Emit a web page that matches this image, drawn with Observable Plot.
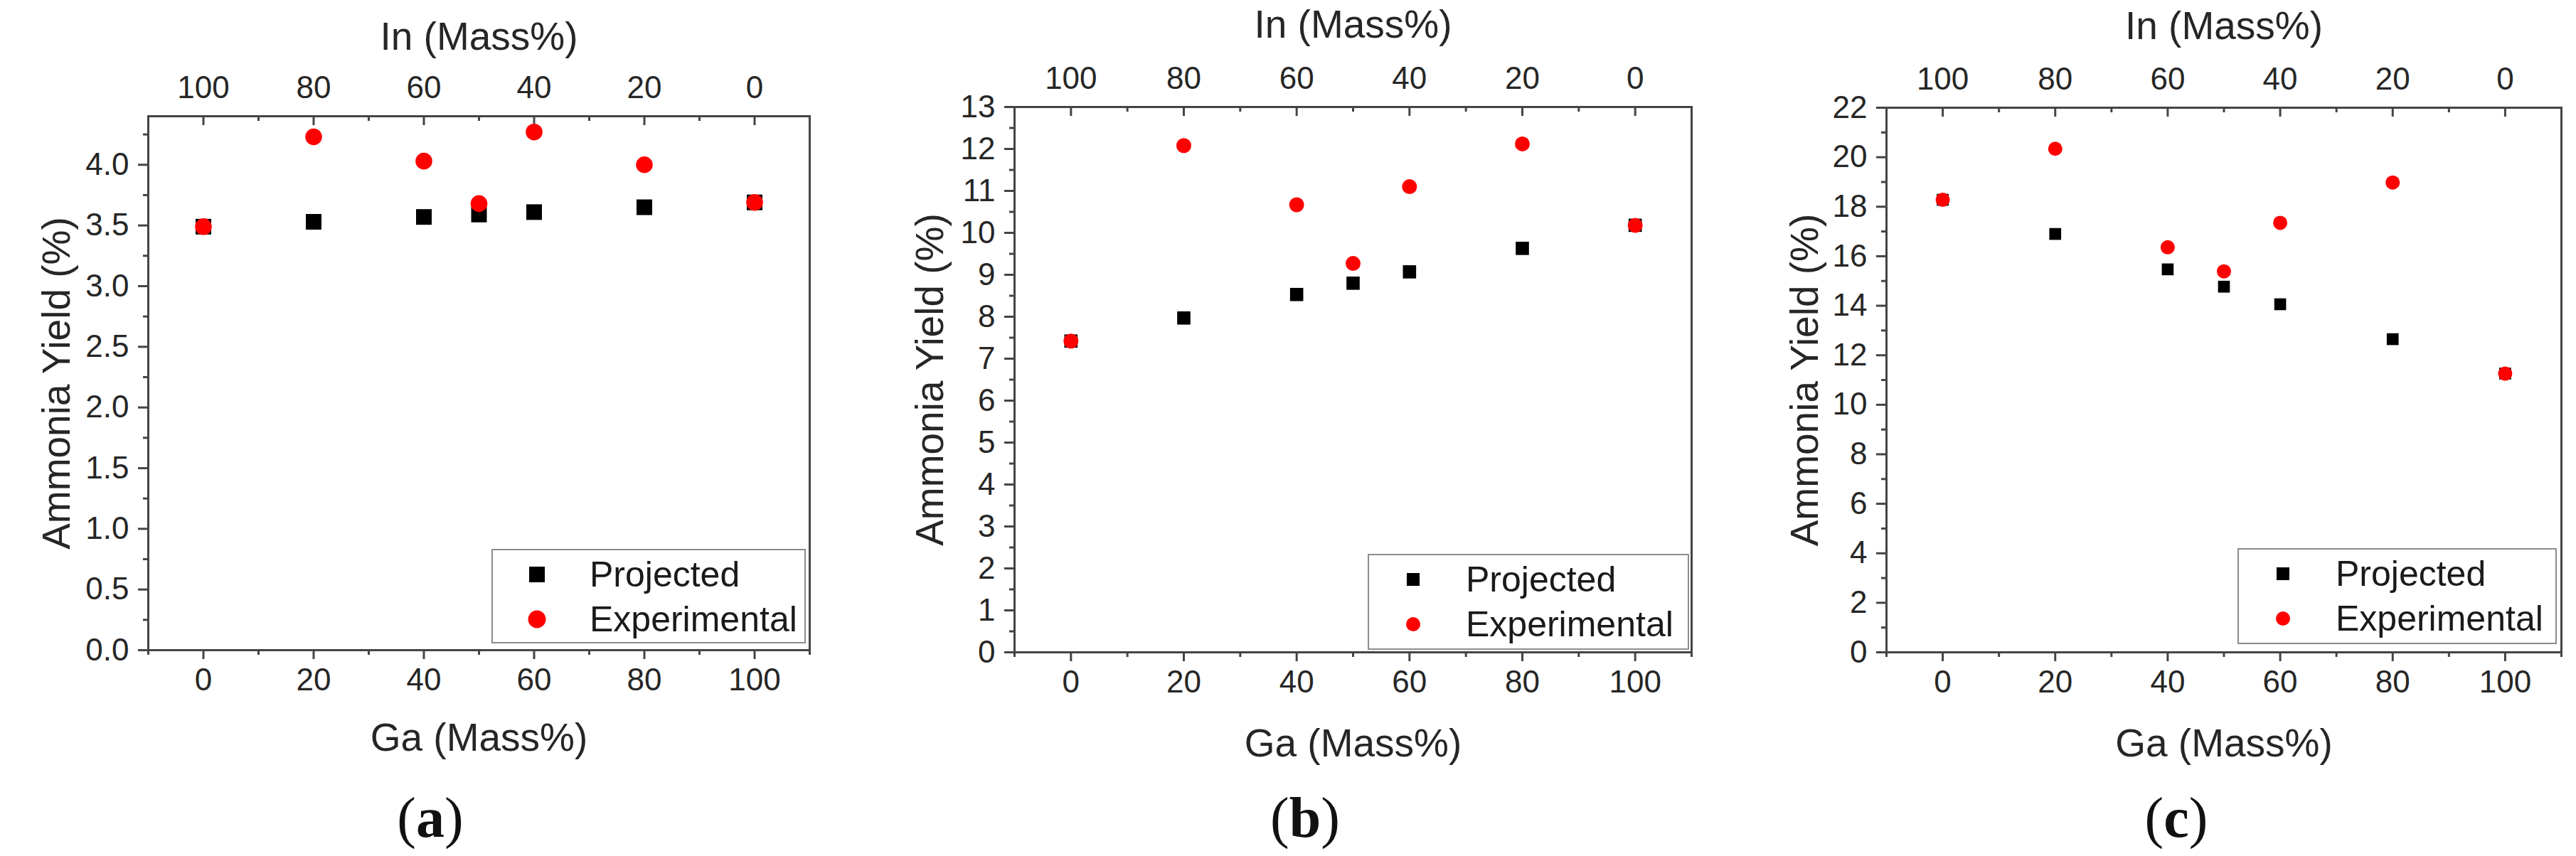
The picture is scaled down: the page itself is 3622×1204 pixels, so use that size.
<!DOCTYPE html>
<html>
<head>
<meta charset="utf-8">
<script src="https://cdn.jsdelivr.net/npm/d3@7"></script>
<script src="https://cdn.jsdelivr.net/npm/@observablehq/plot@0.6"></script>
<style>
  html, body { margin: 0; padding: 0; background: #fff; }
  #fig { position: relative; width: 3622px; height: 1204px; overflow: hidden; background: #fff;
         font-family: "Liberation Sans", Arial, sans-serif; }
  .panel { position: absolute; top: 0; }
  .legend { position: absolute; background: #fff; box-sizing: border-box; border: 2px solid #8c8c8c; }
  .legend svg { display: block; }
  .cap { position: absolute; font-family: "Liberation Serif", "DejaVu Serif", serif; font-size: 80px;
         line-height: 1; transform: translate(-50%, -50%); color: #111; white-space: nowrap; }
  .cap b { font-weight: bold; }
</style>
</head>
<body>
<div id="fig"></div>
<script>
// ---------- data ----------
const gaMass = [0, 20, 40, 50, 60, 80, 100];
const projectedA = [3.49, 3.53, 3.57, 3.59, 3.61, 3.65, 3.69];
const experimentalA = [3.49, 4.23, 4.03, 3.68, 4.27, 4.00, 3.69];
const projectedB = [7.42, 7.97, 8.53, 8.80, 9.07, 9.63, 10.18];
const experimentalB = [7.42, 12.08, 10.67, 9.27, 11.10, 12.12, 10.18];
const projectedC = [18.28, 16.90, 15.47, 14.77, 14.06, 12.65, 11.26];
const experimentalC = [18.28, 20.34, 16.36, 15.39, 17.35, 18.98, 11.26];
const seriesNames = ["Projected", "Experimental"];
const gaTicks = [0, 20, 40, 60, 80, 100];
const gaMinorTicks = [-10, 10, 30, 50, 70, 90, 110];
const inTickLabels = ["100", "80", "60", "40", "20", "0"];
const yTicksA = [0, 0.5, 1, 1.5, 2, 2.5, 3, 3.5, 4];
const yMinorA = [0.25, 0.75, 1.25, 1.75, 2.25, 2.75, 3.25, 3.75, 4.25];
const yTicksB = [0, 1, 2, 3, 4, 5, 6, 7, 8, 9, 10, 11, 12, 13];
const yMinorB = [0.5, 1.5, 2.5, 3.5, 4.5, 5.5, 6.5, 7.5, 8.5, 9.5, 10.5, 11.5, 12.5];
const yTicksC = [0, 2, 4, 6, 8, 10, 12, 14, 16, 18, 20, 22];
const yMinorC = [1, 3, 5, 7, 9, 11, 13, 15, 17, 19, 21];
const xTitle = "Ga (Mass%)";
const topTitle = "In (Mass%)";
const yTitle = "Ammonia Yield (%)";
const captionLetters = ["a", "b", "c"];

// ---------- layout / style ----------
const axisColor = "#444";
const textColor = "#262626";
const panels = [
  { left: 0, width: 1200, ml: 208, mr: 62, mt: 163, mb: 290, yDomain: [0, 4.4],
    proj: projectedA, exp: experimentalA, yTicks: yTicksA, yMinor: yMinorA, yFmt: d3.format(".1f"),
    rSq: 12.4, rCi: 11.8, topDy: -111, botDy: 124, yDx: -128,
    leg: { gapR: 5, gapB: 9, w: 442, h: 133, sq: 22, ci: 25 }, cap: { x: 605, y: 1150 } },
  { left: 1200, width: 1210, ml: 226, mr: 32, mt: 150, mb: 287, yDomain: [0, 13],
    proj: projectedB, exp: experimentalB, yTicks: yTicksB, yMinor: yMinorB, yFmt: d3.format("d"),
    rSq: 10.5, rCi: 10.5, topDy: -115, botDy: 129, yDx: -118,
    leg: { gapR: 3, gapB: 3, w: 452, h: 135, sq: 18, ci: 20 }, cap: { x: 1835, y: 1150 } },
  { left: 2410, width: 1212, ml: 242, mr: 21, mt: 151, mb: 287, yDomain: [0, 22],
    proj: projectedC, exp: experimentalC, yTicks: yTicksC, yMinor: yMinorC, yFmt: d3.format("d"),
    rSq: 9.4, rCi: 10, topDy: -114, botDy: 129, yDx: -114,
    leg: { gapR: 6, gapB: 11, w: 449, h: 135, sq: 18, ci: 20 }, cap: { x: 3060, y: 1150 } }
];

const fig = document.getElementById("fig");
const H = 1204;

panels.forEach((p, k) => {
  const fh = H - p.mt - p.mb;
  const projRows = gaMass.map((g, i) => ({ ga: g, v: p.proj[i], s: seriesNames[0] }));
  const expRows = gaMass.map((g, i) => ({ ga: g, v: p.exp[i], s: seriesNames[1] }));

  const chart = Plot.plot({
    width: p.width, height: H,
    marginLeft: p.ml, marginRight: p.mr, marginTop: p.mt, marginBottom: p.mb,
    x: { domain: [-10, 110], label: null },
    y: { domain: p.yDomain, label: null },
    style: { fontFamily: '"Liberation Sans", Arial, sans-serif', color: textColor, background: "transparent", overflow: "visible" },
    marks: [
      // bottom axis (outward ticks)
      Plot.axisX(gaTicks, { anchor: "bottom", tickSize: 13, tickPadding: 12, fontSize: 44, stroke: axisColor, strokeWidth: 3, label: null, tickFormat: d3.format("d") }),
      Plot.axisX(gaMinorTicks, { anchor: "bottom", tickSize: 7, fill: "none", stroke: axisColor, strokeWidth: 3, label: null }),
      // top axis (In % labels, inward ticks)
      Plot.axisX(gaTicks, { anchor: "top", tickSize: 0, tickPadding: 26, fontSize: 44, label: null,
        tickFormat: d => inTickLabels[gaTicks.indexOf(d)] }),
      Plot.tickX(gaTicks, { x: d => d, insetBottom: fh - 13, stroke: axisColor, strokeWidth: 3 }),
      Plot.tickX(gaMinorTicks, { x: d => d, insetBottom: fh - 7, stroke: axisColor, strokeWidth: 3 }),
      // left axis
      Plot.axisY(p.yTicks, { anchor: "left", tickSize: 14, tickPadding: 13, fontSize: 44, stroke: axisColor, strokeWidth: 3, label: null, tickFormat: p.yFmt }),
      Plot.axisY(p.yMinor, { anchor: "left", tickSize: 7, fill: "none", stroke: axisColor, strokeWidth: 3, label: null }),
      Plot.frame({ stroke: axisColor, strokeWidth: 3 }),
      // titles
      Plot.text([topTitle], { text: d => d, frameAnchor: "top", dy: p.topDy, fontSize: 55, lineAnchor: "middle", textAnchor: "middle", fill: textColor }),
      Plot.text([xTitle], { text: d => d, frameAnchor: "bottom", dy: p.botDy, fontSize: 55, lineAnchor: "middle", textAnchor: "middle", fill: textColor }),
      Plot.text([yTitle], { text: d => d, frameAnchor: "left", dx: p.yDx, rotate: -90, fontSize: 55, lineAnchor: "middle", textAnchor: "middle", fill: textColor }),
      // data
      Plot.dot(projRows, { x: "ga", y: "v", symbol: "square", r: p.rSq, fill: "#000", stroke: "none" }),
      Plot.dot(expRows, { x: "ga", y: "v", symbol: "circle", r: p.rCi, fill: "#ff0000", stroke: "none" })
    ]
  });

  const wrap = document.createElement("div");
  wrap.className = "panel";
  wrap.style.left = p.left + "px";
  wrap.style.width = p.width + "px";
  wrap.style.height = H + "px";
  wrap.appendChild(chart);

  // legend
  const L = p.leg;
  const leg = document.createElement("div");
  leg.className = "legend";
  leg.style.width = L.w + "px";
  leg.style.height = L.h + "px";
  leg.style.right = (p.mr + L.gapR) + "px";
  leg.style.bottom = (p.mb + L.gapB) + "px";
  const iw = L.w - 4, ih = L.h - 4;
  const rowY = [34, 97];
  const ns = "http://www.w3.org/2000/svg";
  const svg = document.createElementNS(ns, "svg");
  svg.setAttribute("width", iw);
  svg.setAttribute("height", ih);
  seriesNames.forEach((name, i) => {
    let m;
    if (i === 0) {
      m = document.createElementNS(ns, "rect");
      m.setAttribute("x", 62 - L.sq / 2);
      m.setAttribute("y", rowY[i] - L.sq / 2);
      m.setAttribute("width", L.sq);
      m.setAttribute("height", L.sq);
      m.setAttribute("fill", "#000");
    } else {
      m = document.createElementNS(ns, "circle");
      m.setAttribute("cx", 62);
      m.setAttribute("cy", rowY[i]);
      m.setAttribute("r", L.ci / 2);
      m.setAttribute("fill", "#ff0000");
    }
    svg.appendChild(m);
    const t = document.createElementNS(ns, "text");
    t.setAttribute("x", 136);
    t.setAttribute("y", rowY[i] + 17);
    t.setAttribute("font-size", 50);
    t.setAttribute("font-family", '"Liberation Sans", Arial, sans-serif');
    t.setAttribute("fill", "#1a1a1a");
    t.textContent = name;
    svg.appendChild(t);
  });
  leg.appendChild(svg);
  wrap.appendChild(leg);
  fig.appendChild(wrap);

  // caption
  const cap = document.createElement("div");
  cap.className = "cap";
  cap.style.left = p.cap.x + "px";
  cap.style.top = p.cap.y + "px";
  cap.innerHTML = "(<b>" + captionLetters[k] + "</b>)";
  fig.appendChild(cap);
});
</script>
</body>
</html>
